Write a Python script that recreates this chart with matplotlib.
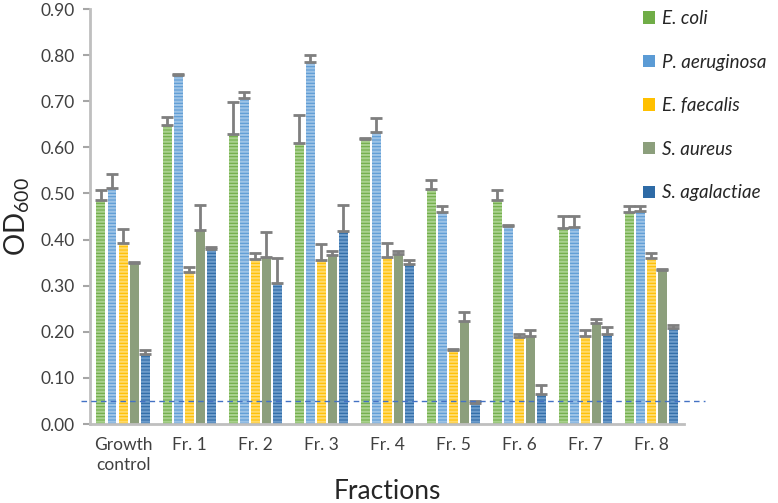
import numpy as np
import matplotlib
matplotlib.use('Agg')
import matplotlib.pyplot as plt

plt.rcParams['font.family'] = ['Lato', 'DejaVu Sans']
plt.rcParams['mathtext.fontset'] = 'custom'
plt.rcParams['mathtext.rm'] = 'Lato'
plt.rcParams['hatch.linewidth'] = 1.6

# data
fractions = ['Growth\ncontrol', 'Fr. 1', 'Fr. 2', 'Fr. 3', 'Fr. 4', 'Fr. 5', 'Fr. 6', 'Fr. 7', 'Fr. 8']
species = ['E. coli', 'P. aeruginosa', 'E. faecalis', 'S. aureus', 'S. agalactiae']

e_coli = [0.485, 0.648, 0.628, 0.610, 0.618, 0.510, 0.485, 0.426, 0.460]
p_aeruginosa = [0.512, 0.758, 0.708, 0.785, 0.633, 0.460, 0.430, 0.427, 0.462]
e_faecalis = [0.392, 0.330, 0.358, 0.356, 0.363, 0.160, 0.188, 0.190, 0.360]
s_aureus = [0.350, 0.420, 0.362, 0.367, 0.369, 0.224, 0.190, 0.220, 0.335]
s_agalactiae = [0.152, 0.380, 0.306, 0.418, 0.348, 0.045, 0.066, 0.195, 0.208]

e_coli_err = [0.022, 0.018, 0.070, 0.060, 0.003, 0.020, 0.022, 0.025, 0.012]
p_aeruginosa_err = [0.030, 0.002, 0.012, 0.016, 0.030, 0.012, 0.002, 0.025, 0.010]
e_faecalis_err = [0.030, 0.010, 0.012, 0.034, 0.030, 0.003, 0.008, 0.015, 0.012]
s_aureus_err = [0.002, 0.056, 0.055, 0.008, 0.006, 0.020, 0.015, 0.007, 0.002]
s_agalactiae_err = [0.008, 0.003, 0.055, 0.057, 0.008, 0.004, 0.018, 0.015, 0.007]

cutoff = 0.05

values = [e_coli, p_aeruginosa, e_faecalis, s_aureus, s_agalactiae]
errors = [e_coli_err, p_aeruginosa_err, e_faecalis_err, s_aureus_err, s_agalactiae_err]
fills = ['#70AD47', '#5B9BD5', '#FFC000', '#8C9F7C', '#2E6BA6']
stripes = ['#A9D18E', '#9DC3E6', '#FFDA6A', None, '#6D9CCB']

fig = plt.figure(figsize=(7.78, 5.03), dpi=100)
ax = fig.add_axes([0.1157, 0.157, 0.764, 0.825])

x = np.arange(len(fractions))
step = 0.167
width = 0.136
for i in range(len(species)):
    pos = x + (i - 2) * step
    ax.bar(pos, values[i], width, color=fills[i], lw=0, label=species[i], zorder=2)
    if stripes[i] is not None:
        ax.bar(pos, values[i], width, color='none', edgecolor=stripes[i], lw=0,
               hatch='-----', zorder=3)
    ax.errorbar(pos, values[i], yerr=[np.zeros(len(x)), errors[i]], fmt='none',
                ecolor='#7F7F7F', elinewidth=2, capsize=4, capthick=2, zorder=4)

ax.axhline(cutoff, xmin=-0.015, xmax=1.035, color='#4472C4', lw=1, ls=(0, (4, 3)),
           clip_on=False, zorder=5)

ax.set_xlim(-0.5, len(fractions) - 0.5)
ax.set_ylim(0, 0.9)
ax.set_yticks(np.arange(0, 0.91, 0.1))
ax.set_yticklabels(['%.2f' % v for v in np.arange(0, 0.91, 0.1)])
ax.set_xticks(x)
ax.set_xticklabels(fractions, linespacing=1.35)
ax.tick_params(axis='x', length=0, labelsize=12.5, pad=9, colors='#404040')
ax.tick_params(axis='y', length=5, width=1.5, color='#A6A6A6', labelsize=12.5,
               labelcolor='#404040', pad=6)
for s in ['top', 'right']:
    ax.spines[s].set_visible(False)
for s in ['left', 'bottom']:
    ax.spines[s].set_color('#BFBFBF')
    ax.spines[s].set_linewidth(2)

ax.set_ylabel('OD$_{600}$', fontsize=20, color='#262626', labelpad=6)
ax.set_xlabel('Fractions', fontsize=19, color='#262626', labelpad=4)

leg = ax.legend(loc='upper left', bbox_to_anchor=(0.93, 0.998), frameon=False,
                borderpad=0, borderaxespad=0, handlelength=0.65, handleheight=0.65,
                labelspacing=1.42, handletextpad=0.4,
                prop={'style': 'italic', 'size': 13.5})
for t in leg.get_texts():
    t.set_color('#262626')

fig.savefig('out.png', dpi=100)
